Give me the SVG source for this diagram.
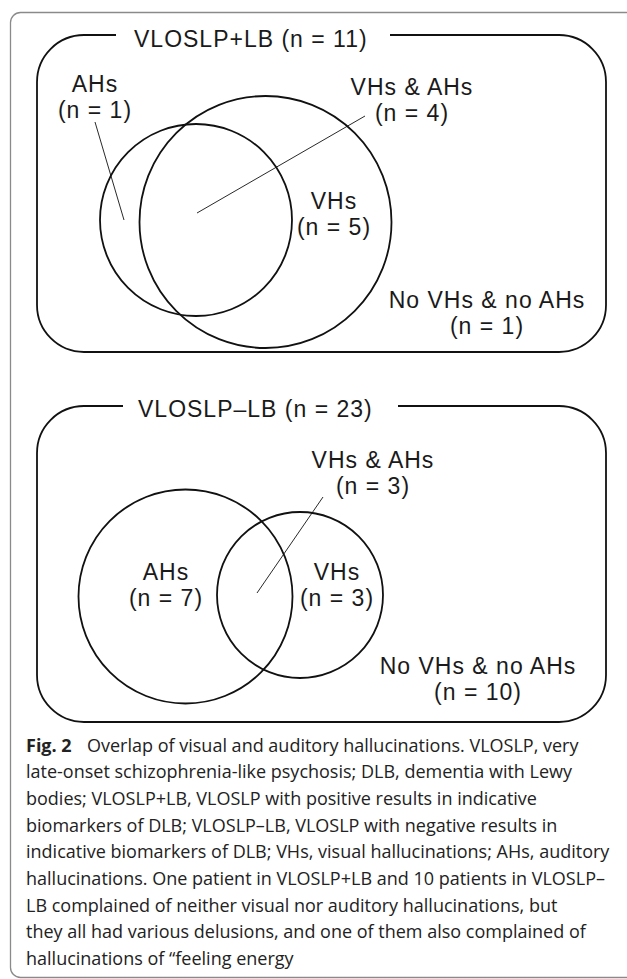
<svg xmlns="http://www.w3.org/2000/svg" width="627" height="979" viewBox="0 0 627 979">
<style>
.frame{fill:none;stroke:#8a8a8a;stroke-width:1.3}
.box{fill:none;stroke:#111;stroke-width:1.8}
.venn{fill:none;stroke:#111;stroke-width:1.8}
.lead{fill:none;stroke:#111;stroke-width:0.9}
.lbl{font-family:"Liberation Sans",Arial,sans-serif;font-size:23px;letter-spacing:1px;fill:#1a1a1a;text-anchor:middle}
.ttl{font-family:"Liberation Sans",Arial,sans-serif;font-size:23px;letter-spacing:1px;fill:#1a1a1a}
.cap{font-family:"Open Sans","Liberation Sans",sans-serif;font-size:18px;fill:#222}
.capb{font-weight:bold}
</style>
<rect width="627" height="979" fill="#fff"/>
<rect id="frame" class="frame" x="10.5" y="12.5" width="640" height="965" rx="10"/>

<g id="box-top">
<path class="box" d="M116,35 H84 A47,47 0 0 0 37,82 V305 A47,47 0 0 0 84,352 H559 A47,47 0 0 0 606,305 V82 A47,47 0 0 0 559,35 H390"/>
<text class="ttl" x="134" y="47">VLOSLP+LB (n = 11)</text>
</g>
<g id="top-ahs-circle"><circle class="venn" cx="196" cy="220" r="96"/></g>
<g id="top-vhs-circle"><circle class="venn" cx="265.5" cy="222" r="126"/></g>
<g id="top-label-ahs"><text class="lbl" x="95" y="92">AHs</text><text class="lbl" x="95" y="118">(n = 1)</text></g>
<g id="top-label-both"><text class="lbl" x="412" y="95">VHs &amp; AHs</text><text class="lbl" x="412" y="121">(n = 4)</text></g>
<g id="top-label-vhs"><text class="lbl" x="334" y="209">VHs</text><text class="lbl" x="334" y="235">(n = 5)</text></g>
<g id="top-label-none"><text class="lbl" x="487" y="308">No VHs &amp; no AHs</text><text class="lbl" x="487" y="334">(n = 1)</text></g>

<g id="box-bottom">
<path class="box" d="M123,406 H84 A47,47 0 0 0 37,453 V675 A47,47 0 0 0 84,722 H559 A47,47 0 0 0 606,675 V453 A47,47 0 0 0 559,406 H398"/>
<text class="ttl" x="138" y="417">VLOSLP–LB (n = 23)</text>
</g>
<g id="bot-ahs-circle"><circle class="venn" cx="185.5" cy="596.5" r="107"/></g>
<g id="bot-vhs-circle"><circle class="venn" cx="300" cy="595" r="83"/></g>
<g id="bot-label-both"><text class="lbl" x="373" y="468">VHs &amp; AHs</text><text class="lbl" x="373" y="494">(n = 3)</text></g>
<g id="bot-label-ahs"><text class="lbl" x="166" y="580">AHs</text><text class="lbl" x="166" y="606">(n = 7)</text></g>
<g id="bot-label-vhs"><text class="lbl" x="337" y="580">VHs</text><text class="lbl" x="337" y="606">(n = 3)</text></g>
<g id="bot-label-none"><text class="lbl" x="478" y="674">No VHs &amp; no AHs</text><text class="lbl" x="478" y="700">(n = 10)</text></g>

<g id="connectors">
<line class="lead" x1="95" y1="122" x2="124" y2="220"/>
<line class="lead" x1="365" y1="116" x2="197" y2="213"/>
<line class="lead" x1="323" y1="497" x2="257" y2="593"/>
</g>

<g id="caption">
<text class="cap" x="26" y="752"><tspan class="capb">Fig. 2</tspan><tspan x="87">Overlap of visual and auditory hallucinations. VLOSLP, very</tspan></text>
<text class="cap" x="26" y="778">late-onset schizophrenia-like psychosis; DLB, dementia with Lewy</text>
<text class="cap" x="26" y="805">bodies; VLOSLP+LB, VLOSLP with positive results in indicative</text>
<text class="cap" x="26" y="832">biomarkers of DLB; VLOSLP–LB, VLOSLP with negative results in</text>
<text class="cap" x="26" y="858">indicative biomarkers of DLB; VHs, visual hallucinations; AHs, auditory</text>
<text class="cap" x="26" y="885">hallucinations. One patient in VLOSLP+LB and 10 patients in VLOSLP–</text>
<text class="cap" x="26" y="912">LB complained of neither visual nor auditory hallucinations, but</text>
<text class="cap" x="26" y="938">they all had various delusions, and one of them also complained of</text>
<text class="cap" x="26" y="965">hallucinations of “feeling energy</text>
</g>
</svg>
